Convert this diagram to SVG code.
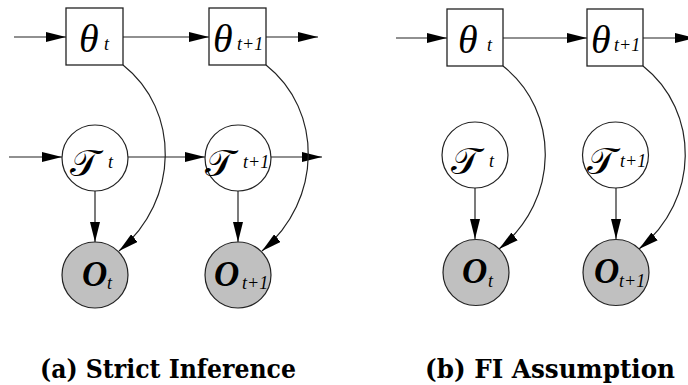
<svg xmlns="http://www.w3.org/2000/svg" width="688" height="385" viewBox="0 0 688 385">
<defs>
<marker id="ah" markerUnits="userSpaceOnUse" markerWidth="20" markerHeight="10" refX="20" refY="5" orient="auto">
<path d="M0,0 L20,5 L0,10 z" fill="#000"/>
</marker>
</defs>
<style>
.box{fill:#fff;stroke:#222;stroke-width:1.3}
.hid{fill:#fff;stroke:#222;stroke-width:1.2}
.obs{fill:#c0c0c0;stroke:#222;stroke-width:1.2}
.edge{fill:none;stroke:#222;stroke-width:1.2;marker-end:url(#ah)}
.th{font-family:"Liberation Serif",serif;font-style:italic;font-size:40px}
.sub{font-family:"Liberation Serif",serif;font-style:italic;font-size:18px}
.sc{font-family:"DejaVu Sans","DejaVu Serif",serif;font-size:38px}
.ob{font-family:"Liberation Serif",serif;font-style:italic;font-weight:bold;font-size:35px}
.cap{font-family:"DejaVu Serif","Liberation Serif",serif;font-weight:bold;font-size:26px}
</style>
<rect width="688" height="385" fill="#fff"/>
<g id="connectors">
<line class="edge" x1="14" y1="37" x2="66" y2="37"/>
<line class="edge" x1="123" y1="37" x2="209" y2="37"/>
<line class="edge" x1="266" y1="37" x2="318" y2="37"/>
<line class="edge" x1="9" y1="157" x2="62" y2="157"/>
<line class="edge" x1="128" y1="157" x2="205" y2="157"/>
<line class="edge" x1="271" y1="157" x2="322" y2="157"/>
<line class="edge" x1="95" y1="191" x2="95" y2="242"/>
<line class="edge" x1="238" y1="191" x2="238" y2="242"/>
<path class="edge" d="M123,65 C180,110 180,200 119,251"/>
<path class="edge" d="M266,65 C323,110 323,200 262,251"/>
<line class="edge" x1="396" y1="38" x2="447" y2="38"/>
<line class="edge" x1="503" y1="38" x2="587" y2="38"/>
<line class="edge" x1="643" y1="38" x2="695" y2="38"/>
<line class="edge" x1="475" y1="188" x2="475" y2="239"/>
<line class="edge" x1="616" y1="188" x2="616" y2="239"/>
<path class="edge" d="M503,66 C560,111 560,200 499,249"/>
<path class="edge" d="M643,66 C700,111 700,200 639,249"/>
</g>
<g id="theta_t_a"><rect class="box" x="66" y="8" width="57" height="57"/><text class="th" x="79" y="52">θ</text><text class="sub" x="104" y="50">t</text></g>
<g id="theta_t1_a"><rect class="box" x="209" y="8" width="57" height="57"/><text class="th" x="213" y="52">θ</text><text class="sub" x="237" y="50">t+1</text></g>
<g id="T_t_a"><circle class="hid" cx="95" cy="158" r="33"/><text class="sc" x="70" y="176">𝒯</text><text class="sub" x="108" y="168">t</text></g>
<g id="T_t1_a"><circle class="hid" cx="238" cy="158" r="33"/><text class="sc" x="205" y="176">𝒯</text><text class="sub" x="243" y="168">t+1</text></g>
<g id="O_t_a"><circle class="obs" cx="95" cy="275" r="33"/><text class="ob" x="82" y="286">O</text><text class="sub" x="107" y="289">t</text></g>
<g id="O_t1_a"><circle class="obs" cx="238" cy="275" r="33"/><text class="ob" x="214" y="286">O</text><text class="sub" x="242" y="289">t+1</text></g>
<g id="theta_t_b"><rect class="box" x="447" y="9" width="56" height="57"/><text class="th" x="458" y="53">θ</text><text class="sub" x="487" y="51">t</text></g>
<g id="theta_t1_b"><rect class="box" x="587" y="9" width="56" height="57"/><text class="th" x="591" y="53">θ</text><text class="sub" x="614" y="51">t+1</text></g>
<g id="T_t_b"><circle class="hid" cx="475" cy="155" r="33"/><text class="sc" x="451" y="174">𝒯</text><text class="sub" x="489" y="167">t</text></g>
<g id="T_t1_b"><circle class="hid" cx="615.5" cy="155" r="33"/><text class="sc" x="587" y="174">𝒯</text><text class="sub" x="620" y="167">t+1</text></g>
<g id="O_t_b"><circle class="obs" cx="476" cy="272.5" r="33"/><text class="ob" x="462" y="283">O</text><text class="sub" x="488" y="287">t</text></g>
<g id="O_t1_b"><circle class="obs" cx="616" cy="272.5" r="33"/><text class="ob" x="594" y="283">O</text><text class="sub" x="619" y="287">t+1</text></g>
<g id="captions">
<text class="cap" x="168" y="378" text-anchor="middle" textLength="256" lengthAdjust="spacingAndGlyphs">(a) Strict Inference</text>
<text class="cap" x="550" y="378" text-anchor="middle" textLength="250" lengthAdjust="spacingAndGlyphs">(b) FI Assumption</text>
</g>
</svg>
